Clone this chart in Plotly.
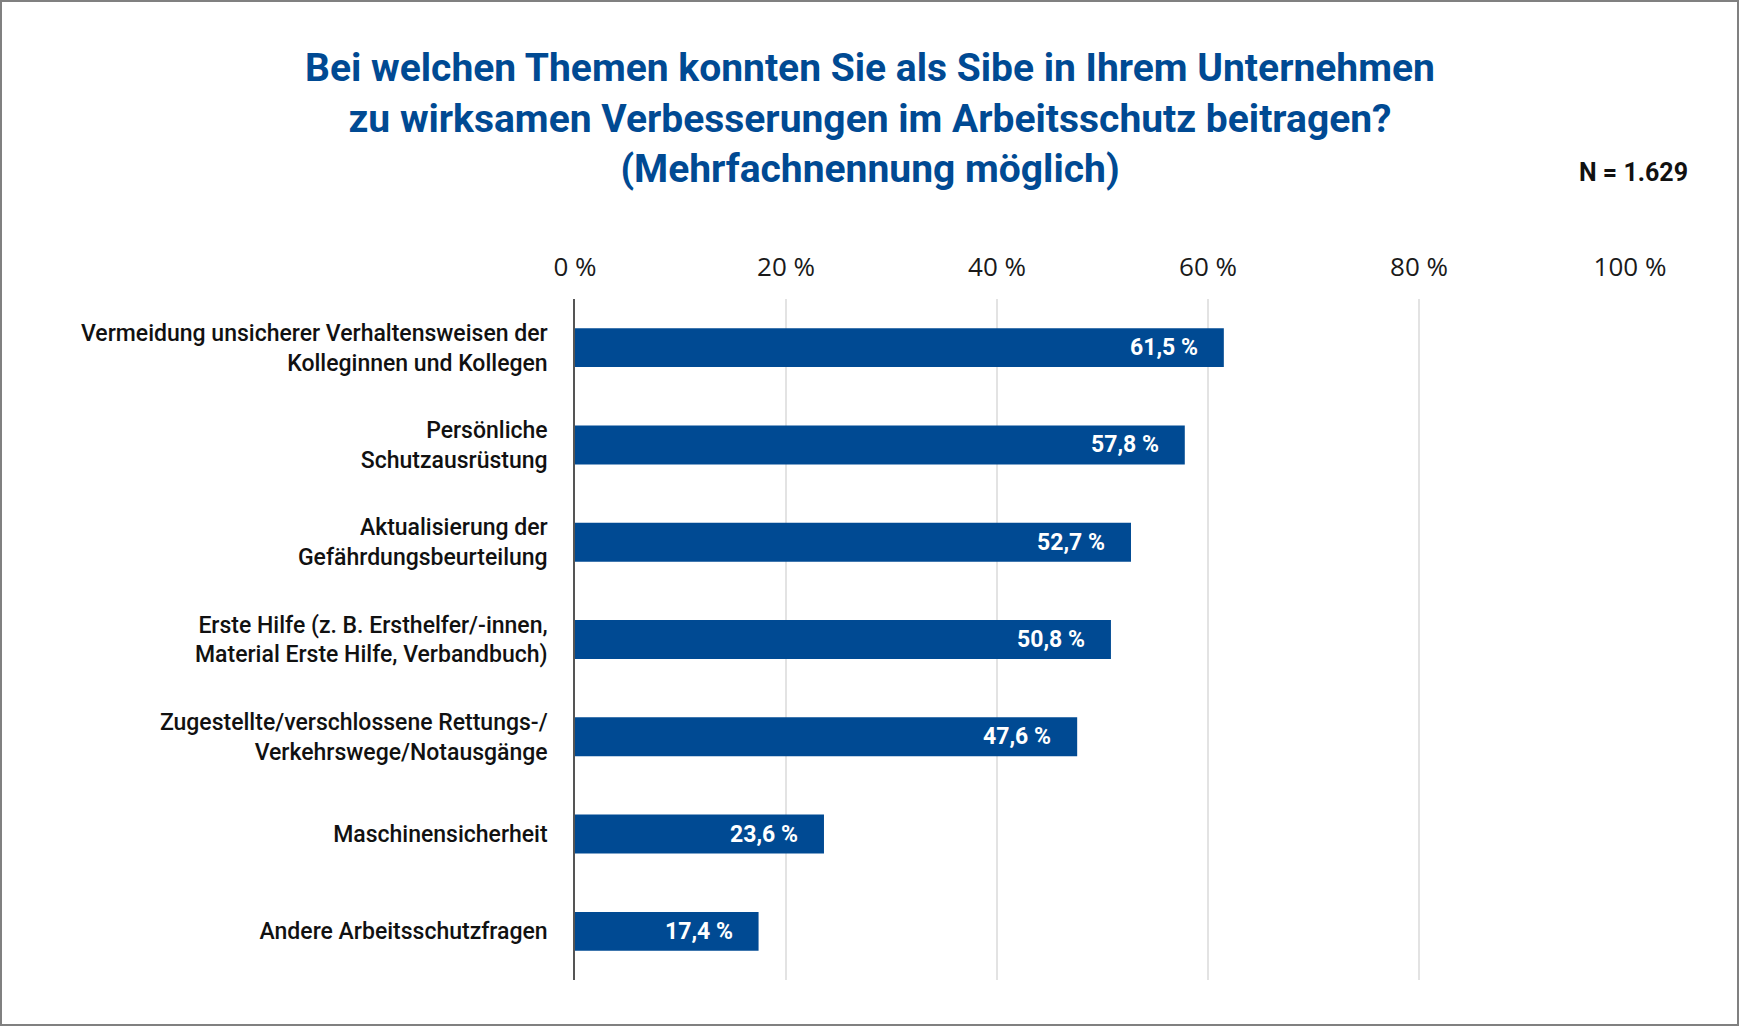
import plotly.graph_objects as go

categories = [
    "Vermeidung unsicherer Verhaltensweisen der<br>Kolleginnen und Kollegen",
    "Persönliche<br>Schutzausrüstung",
    "Aktualisierung der<br>Gefährdungsbeurteilung",
    "Erste Hilfe (z. B. Ersthelfer/-innen,<br>Material Erste Hilfe, Verbandbuch)",
    "Zugestellte/verschlossene Rettungs-/<br>Verkehrswege/Notausgänge",
    "Maschinensicherheit",
    "Andere Arbeitsschutzfragen",
]
values = [61.5, 57.8, 52.7, 50.8, 47.6, 23.6, 17.4]
tick_vals = [0, 20, 40, 60, 80, 100]
tick_text = ["0 %", "20 %", "40 %", "60 %", "80 %", "100 %"]
title_text = ("Bei welchen Themen konnten Sie als Sibe in Ihrem Unternehmen<br>"
              "zu wirksamen Verbesserungen im Arbeitsschutz beitragen?<br>"
              "(Mehrfachnennung möglich)")
n_text = "N = 1.629"

BLUE = "#004A93"
W, H = 1740, 1027
ML, MR, MT, MB = 575, 110, 299, 47
pw, ph = W - ML - MR, H - MT - MB

fig = go.Figure()
fig.add_trace(go.Bar(
    x=values, y=categories, orientation="h",
    marker=dict(color=BLUE, line=dict(width=0)),
    width=0.4, hoverinfo="skip",
))

for v, c in zip(values, categories):
    fig.add_annotation(
        x=v, y=c, xref="x", yref="y", text=f"{v:.1f} %".replace(".", ","),
        showarrow=False, xanchor="right", xshift=-24,
        font=dict(family="Roboto", size=23, color="white", weight="bold"),
    )

fig.add_annotation(
    x=(W - 50 - ML) / pw, y=(H - MB - 173) / ph, xref="paper", yref="paper",
    text=n_text, showarrow=False, xanchor="right", yanchor="middle",
    font=dict(family="Roboto", size=25, color="#111111", weight="bold"),
)

# outer frame
fig.add_shape(
    type="rect", xref="paper", yref="paper",
    x0=(1 - ML) / pw, x1=(W - 2 - ML) / pw,
    y0=(H - MB - (H - 2)) / ph, y1=(H - MB - 1) / ph,
    line=dict(color="#808080", width=2), fillcolor="rgba(0,0,0,0)", layer="above",
)

fig.update_layout(
    width=W, height=H,
    margin=dict(l=ML, r=MR, t=MT, b=MB, autoexpand=False),
    paper_bgcolor="white", plot_bgcolor="white",
    showlegend=False,
    title=dict(
        text=title_text, x=0.5, xanchor="center", xref="container",
        y=1 - 81 / H, yanchor="top", yref="container",
        font=dict(family="Roboto", size=39, color=BLUE, weight="bold"),
    ),
    xaxis=dict(
        range=[0, 100], side="top", tickvals=tick_vals, ticktext=tick_text,
        showgrid=True, gridcolor="#E3E3E3", gridwidth=1.5,
        zeroline=False, showline=False,
        ticks="outside", ticklen=12, tickcolor="white",
        tickfont=dict(family="Open Sans", size=26, color="#1a1a1a"),
        fixedrange=True,
    ),
    yaxis=dict(
        autorange="reversed", showgrid=False, zeroline=False,
        showline=True, linecolor="#555555", linewidth=1.5,
        ticks="outside", ticklen=21, tickcolor="rgba(0,0,0,0)",
        tickfont=dict(family="Roboto", size=23, color="#111111", weight=500),
        fixedrange=True,
    ),
    bargap=0.6,
)

fig.write_html(
    "out.html",
    config={"displayModeBar": False},
    post_script="document.body.style.margin='0';document.body.style.padding='0';",
)
